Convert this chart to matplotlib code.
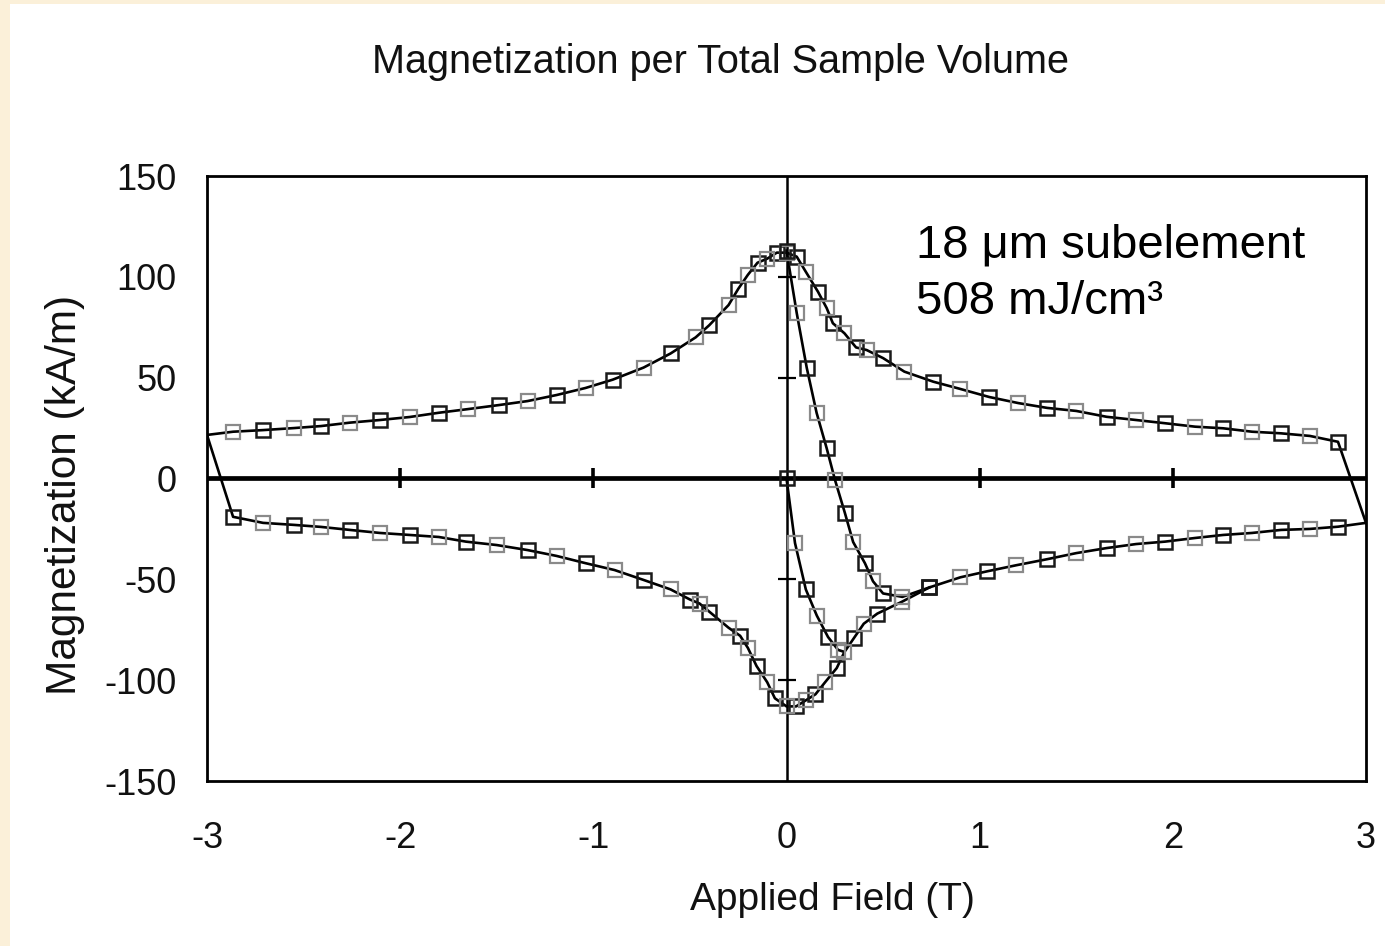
import numpy as np
import matplotlib
matplotlib.use("Agg")
import matplotlib.pyplot as plt
from matplotlib.patches import Rectangle

plt.rcParams['font.family'] = ['Liberation Sans', 'DejaVu Sans']
plt.rcParams['axes.unicode_minus'] = False

# virgin curve from the origin
virgin_x = [0.0, 0.044, 0.1, 0.157, 0.215, 0.267, 0.30]
virgin_y = [0, -32, -55, -68, -78.6, -85, -86]

# field sweep up (-3 -> 3), lower branch
up_x = [-3.0, -2.865, -2.71, -2.55, -2.41, -2.26, -2.105, -1.95, -1.80, -1.66,
        -1.50, -1.34, -1.19, -1.04, -0.89, -0.74, -0.60, -0.50, -0.45, -0.40,
        -0.30, -0.24, -0.20, -0.155, -0.10, -0.06, 0.0, 0.05, 0.10, 0.15, 0.20,
        0.26, 0.30, 0.35, 0.40, 0.47, 0.60, 0.74, 0.90, 1.04, 1.19, 1.35, 1.50,
        1.657, 1.81, 1.96, 2.115, 2.26, 2.41, 2.56, 2.71, 2.855, 3.0]
up_y = [21.6, -19, -22, -23, -24, -25.5, -27, -28, -29, -31.3,
        -33, -35.5, -38.4, -42, -45.4, -50.3, -55, -60, -62, -66,
        -74, -78, -84, -93, -101, -109, -113, -113, -110, -107, -101,
        -94, -86, -79, -72, -67, -61, -54, -49, -46, -43, -40, -37,
        -34.5, -32.5, -31.3, -29.5, -28, -27, -25.5, -25, -23.9, -22]

# field sweep down (3 -> -3), upper branch
down_x = [3.0, 2.855, 2.71, 2.56, 2.41, 2.26, 2.115, 1.96, 1.81, 1.657, 1.50,
          1.35, 1.20, 1.05, 0.90, 0.76, 0.61, 0.50, 0.415, 0.36, 0.30, 0.24,
          0.208, 0.163, 0.10, 0.053, 0.0, -0.05, -0.10, -0.15, -0.20, -0.25,
          -0.30, -0.40, -0.47, -0.60, -0.74, -0.90, -1.04, -1.19, -1.34, -1.49,
          -1.65, -1.80, -1.95, -2.105, -2.26, -2.41, -2.55, -2.71, -2.865, -3.0]
down_y = [-22, 18.2, 21.1, 22.4, 23.2, 24.9, 25.7, 27.4, 29, 30.6, 33.5,
          35, 37.4, 40.4, 44.4, 48, 53, 59.7, 63.7, 65, 72, 77,
          84.5, 92.6, 102.5, 110, 112, 112, 109, 107, 101, 94,
          86, 76, 70, 62, 55, 49, 44.9, 41.4, 38.4, 36.4,
          34.4, 32.6, 30.5, 29, 27.7, 26, 25, 24, 23.2, 21.6]

# second descent from the peak at zero field
steep_x = [0.0, 0.053, 0.105, 0.156, 0.208, 0.251, 0.302, 0.345, 0.406, 0.448,
           0.50, 0.60, 0.74]
steep_y = [113, 82, 54.8, 32.5, 15, -0.7, -17, -31.5, -42, -51, -57, -58.7, -54]

x_ticks = [-3, -2, -1, 0, 1, 2, 3]
y_ticks = [-150, -100, -50, 0, 50, 100, 150]

fig = plt.figure(figsize=(13.85, 9.46), dpi=100)
fig.patch.set_facecolor('#fbf0d9')
fig.patches.append(Rectangle((10 / 1385, 0), 1, 1 - 4 / 946, transform=fig.transFigure,
                             facecolor='white', edgecolor='none', zorder=-10))

ax = fig.add_axes([207 / 1385, 1 - 781 / 946, 1159 / 1385, 605 / 946])
ax.set_xlim(-3, 3)
ax.set_ylim(-150, 150)
ax.set_xticks(x_ticks)
ax.set_yticks(y_ticks)
ax.tick_params(length=0, labelsize=26, colors='#111111')
ax.tick_params(axis='x', pad=29)
ax.tick_params(axis='y', pad=22)
for s in ax.spines.values():
    s.set_linewidth(2.0)

# axes crossing at zero, with their own ticks
ax.axhline(0, color='black', lw=3.4, zorder=2)
ax.axvline(0, color='black', lw=1.8, zorder=2)
ax.plot([t for t in x_ticks if t not in (-3, 0, 3)], [0] * 4, ls='none', marker='|',
        ms=14, mew=2.6, color='black', zorder=2)
ax.plot([0] * 4, [t for t in y_ticks if t not in (-150, 0, 150)], ls='none', marker='_',
        ms=13, mew=1.6, color='black', zorder=2)


def curve(xs, ys, first, last):
    ax.plot(xs, ys, color='black', lw=1.9, zorder=3)
    # alternate darker and lighter open squares, as in the scanned original
    ax.plot(xs, ys, ls='none', marker='s', ms=9.5, mfc='none', mec='#1a1a1a',
            mew=1.8, markevery=slice(first, last, 2), zorder=4)
    ax.plot(xs, ys, ls='none', marker='s', ms=9.5, mfc='none', mec='#8a8a8a',
            mew=1.6, markevery=slice(first + 1, last, 2), zorder=4)


curve(up_x, up_y, 1, len(up_x) - 1)
curve(down_x, down_y, 1, len(down_x) - 1)
curve(steep_x, steep_y, 0, len(steep_x))
curve(virgin_x, virgin_y, 0, len(virgin_x) - 1)

ax.text(916 / 1385, 1 - 245 / 946, '18 \u03bcm subelement', transform=fig.transFigure,
        fontsize=34, va='center', ha='left')
ax.text(916 / 1385, 1 - 302 / 946, '508 mJ/cm\u00b3', transform=fig.transFigure,
        fontsize=34, va='center', ha='left')

fig.text(721 / 1385, 1 - 62 / 946, 'Magnetization per Total Sample Volume',
         fontsize=28.5, ha='center', va='center', color='#111111')
fig.text(832 / 1385, 1 - 900 / 946, 'Applied Field (T)', fontsize=28,
         ha='center', va='center', color='#111111')
fig.text(65 / 1385, 1 - 495 / 946, 'Magnetization (kA/m)', fontsize=30.5,
         ha='center', va='center', rotation=90, color='#111111')

fig.savefig('out.png', dpi=100, facecolor=fig.get_facecolor())
